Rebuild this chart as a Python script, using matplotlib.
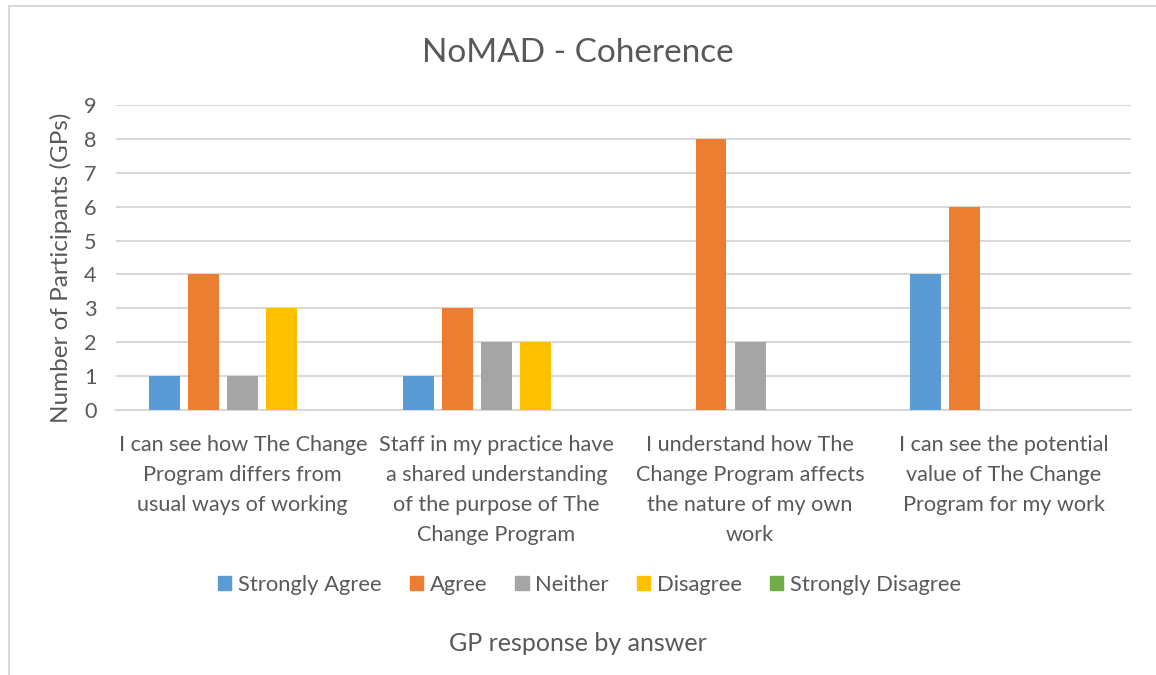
import numpy as np
import matplotlib.pyplot as plt
from matplotlib.lines import Line2D

plt.rcParams['font.family'] = ['Lato', 'DejaVu Sans']

categories = [
    'I can see how The Change\nProgram differs from\nusual ways of working',
    'Staff in my practice have\na shared understanding\nof the purpose of The\nChange Program',
    'I understand how The\nChange Program affects\nthe nature of my own\nwork',
    'I can see the potential\nvalue of The Change\nProgram for my work',
]
series_names = ['Strongly Agree', 'Agree', 'Neither', 'Disagree', 'Strongly Disagree']
strongly_agree = [1, 1, 0, 4]
agree = [4, 3, 8, 6]
neither = [1, 2, 2, 0]
disagree = [3, 2, 0, 0]
strongly_disagree = [0, 0, 0, 0]
colors = ['#5B9BD5', '#ED7D31', '#A5A5A5', '#FFC000', '#70AD47']

text_col = '#595959'
grid_col = '#D9D9D9'

fig = plt.figure(figsize=(11.56, 6.75), dpi=100)
ax = fig.add_axes([0.1003, 0.3926, 0.8777, 0.4518])

values = [strongly_agree, agree, neither, disagree, strongly_disagree]
x = np.arange(len(categories))
step = 0.154
width = 0.122
for i, (name, vals, c) in enumerate(zip(series_names, values, colors)):
    ax.bar(x + (i - 2) * step, vals, width, color=c, label=name, zorder=3)

ax.set_xlim(-0.5, len(categories) - 0.5)
ax.set_ylim(0, 9)
ax.set_yticks(range(10))
ax.yaxis.grid(True, color=grid_col, linewidth=1.5, zorder=0)
for s in ['top', 'right', 'left']:
    ax.spines[s].set_visible(False)
ax.spines['bottom'].set_color(grid_col)
ax.spines['bottom'].set_linewidth(1.5)
ax.tick_params(axis='both', length=0, labelsize=15.6, colors=text_col)
ax.tick_params(axis='y', pad=14)
ax.tick_params(axis='x', pad=18)
ax.set_xticks(x)
ax.set_xticklabels(categories, linespacing=1.62)

ax.set_ylabel('Number of Participants (GPs)', fontsize=17.5, color=text_col)
ax.yaxis.set_label_coords(-0.043, 0.466)
fig.text(0.5, 0.922, 'NoMAD - Coherence', ha='center', va='center', fontsize=24, color=text_col)
fig.text(0.5, 0.047, 'GP response by answer', ha='center', va='center', fontsize=18, color=text_col)

handles = [plt.Rectangle((0, 0), 1, 1, color=c) for c in colors]
fig.legend(handles, series_names, loc='center', bbox_to_anchor=(0.51, 0.134), ncol=5,
           frameon=False, fontsize=15.8, labelcolor=text_col, handlelength=0.6,
           handleheight=0.6, handletextpad=0.3, columnspacing=1.29)

# chart border (left and top visible)
fig.add_artist(Line2D([0.0075, 0.0075], [0, 0.991], color=grid_col, linewidth=1.5))
fig.add_artist(Line2D([0.0075, 1.0], [0.991, 0.991], color=grid_col, linewidth=1.5))

fig.savefig('out.png', dpi=100)
